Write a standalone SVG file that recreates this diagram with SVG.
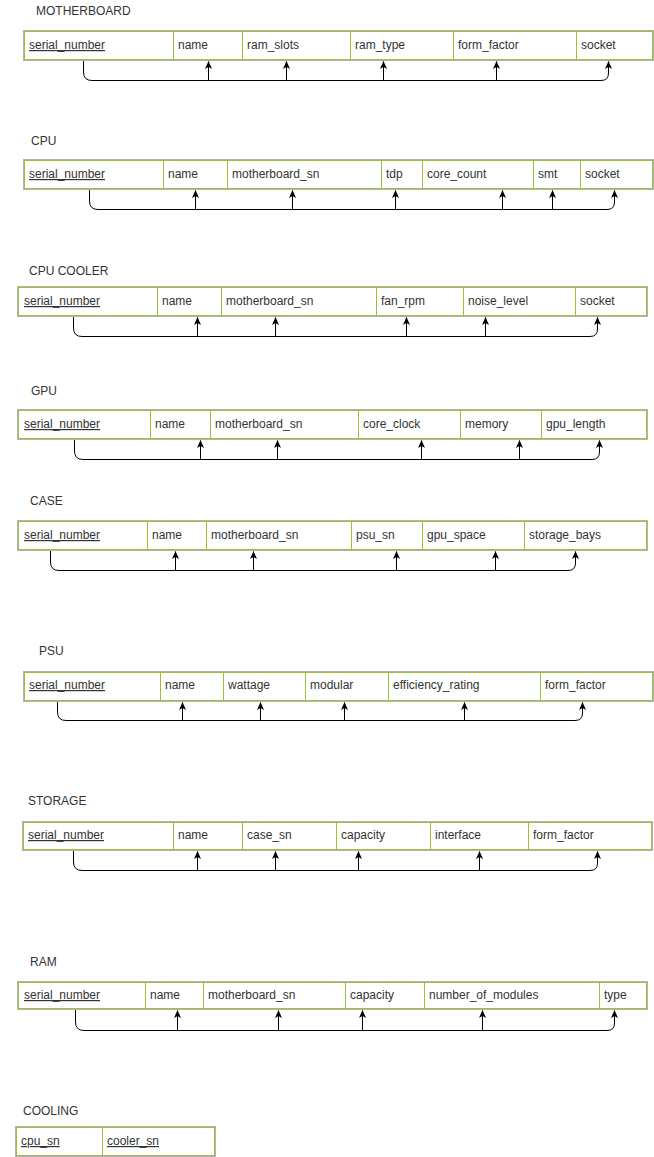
<svg xmlns="http://www.w3.org/2000/svg" width="654" height="1157" viewBox="0 0 654 1157">
<defs>
<style>
.bg{fill:#ffffff}
.outer{fill:#ffffff;stroke:#B3B3B3;stroke-width:1}
.cell{fill:none;stroke:#9AC23A;stroke-width:1}
.t{font-family:"Liberation Sans",Arial,sans-serif;font-size:12px;fill:#333333}
.pk{text-decoration:underline}
.c{fill:none;stroke:#000000;stroke-width:1}
</style>
<marker id="arr" viewBox="0 0 8 8" markerWidth="8" markerHeight="8" refX="7.5" refY="4" orient="auto" markerUnits="userSpaceOnUse">
<path d="M0,0.5 L8,4 L0,7.5 L2,4 z" fill="#000000"/>
</marker>
</defs>
<rect class="bg" x="0" y="0" width="654" height="1157"/>

<g id="motherboard">
<text class="t" x="36" y="15">MOTHERBOARD</text>
<rect class="outer" x="23.5" y="30.5" width="630" height="30"/>
<rect class="cell" x="24.5" y="31.5" width="149" height="28"/>
<rect class="cell" x="173.5" y="31.5" width="69" height="28"/>
<rect class="cell" x="242.5" y="31.5" width="108" height="28"/>
<rect class="cell" x="350.5" y="31.5" width="103" height="28"/>
<rect class="cell" x="453.5" y="31.5" width="123" height="28"/>
<rect class="cell" x="576.5" y="31.5" width="76" height="28"/>
<text class="t pk" x="29" y="49">serial_number</text>
<text class="t" x="178" y="49">name</text>
<text class="t" x="247" y="49">ram_slots</text>
<text class="t" x="355" y="49">ram_type</text>
<text class="t" x="458" y="49">form_factor</text>
<text class="t" x="581" y="49">socket</text>
</g>

<g id="cpu">
<text class="t" x="31" y="145">CPU</text>
<rect class="outer" x="23.5" y="159.5" width="630" height="30"/>
<rect class="cell" x="24.5" y="160.5" width="139" height="28"/>
<rect class="cell" x="163.5" y="160.5" width="64" height="28"/>
<rect class="cell" x="227.5" y="160.5" width="154" height="28"/>
<rect class="cell" x="381.5" y="160.5" width="41" height="28"/>
<rect class="cell" x="422.5" y="160.5" width="111" height="28"/>
<rect class="cell" x="533.5" y="160.5" width="47" height="28"/>
<rect class="cell" x="580.5" y="160.5" width="72" height="28"/>
<text class="t pk" x="29" y="178">serial_number</text>
<text class="t" x="168" y="178">name</text>
<text class="t" x="232" y="178">motherboard_sn</text>
<text class="t" x="386" y="178">tdp</text>
<text class="t" x="427" y="178">core_count</text>
<text class="t" x="538" y="178">smt</text>
<text class="t" x="585" y="178">socket</text>
</g>

<g id="cpu_cooler">
<text class="t" x="29" y="275">CPU COOLER</text>
<rect class="outer" x="17.5" y="286.5" width="630" height="30"/>
<rect class="cell" x="18.5" y="287.5" width="139" height="28"/>
<rect class="cell" x="157.5" y="287.5" width="64" height="28"/>
<rect class="cell" x="221.5" y="287.5" width="155" height="28"/>
<rect class="cell" x="376.5" y="287.5" width="87" height="28"/>
<rect class="cell" x="463.5" y="287.5" width="112" height="28"/>
<rect class="cell" x="575.5" y="287.5" width="71" height="28"/>
<text class="t pk" x="24" y="305">serial_number</text>
<text class="t" x="162" y="305">name</text>
<text class="t" x="226" y="305">motherboard_sn</text>
<text class="t" x="381" y="305">fan_rpm</text>
<text class="t" x="468" y="305">noise_level</text>
<text class="t" x="580" y="305">socket</text>
</g>

<g id="gpu">
<text class="t" x="31" y="395">GPU</text>
<rect class="outer" x="17.5" y="409.5" width="630" height="30"/>
<rect class="cell" x="18.5" y="410.5" width="132" height="28"/>
<rect class="cell" x="150.5" y="410.5" width="60" height="28"/>
<rect class="cell" x="210.5" y="410.5" width="148" height="28"/>
<rect class="cell" x="358.5" y="410.5" width="102" height="28"/>
<rect class="cell" x="460.5" y="410.5" width="81" height="28"/>
<rect class="cell" x="541.5" y="410.5" width="105" height="28"/>
<text class="t pk" x="24" y="428">serial_number</text>
<text class="t" x="155" y="428">name</text>
<text class="t" x="215" y="428">motherboard_sn</text>
<text class="t" x="363" y="428">core_clock</text>
<text class="t" x="465" y="428">memory</text>
<text class="t" x="546" y="428">gpu_length</text>
</g>

<g id="case">
<text class="t" x="30" y="505">CASE</text>
<rect class="outer" x="17.5" y="520.5" width="630" height="30"/>
<rect class="cell" x="18.5" y="521.5" width="129" height="28"/>
<rect class="cell" x="147.5" y="521.5" width="59" height="28"/>
<rect class="cell" x="206.5" y="521.5" width="145" height="28"/>
<rect class="cell" x="351.5" y="521.5" width="71" height="28"/>
<rect class="cell" x="422.5" y="521.5" width="102" height="28"/>
<rect class="cell" x="524.5" y="521.5" width="122" height="28"/>
<text class="t pk" x="24" y="539">serial_number</text>
<text class="t" x="152" y="539">name</text>
<text class="t" x="211" y="539">motherboard_sn</text>
<text class="t" x="356" y="539">psu_sn</text>
<text class="t" x="427" y="539">gpu_space</text>
<text class="t" x="529" y="539">storage_bays</text>
</g>

<g id="psu">
<text class="t" x="39" y="655">PSU</text>
<rect class="outer" x="23.5" y="671.5" width="630" height="30"/>
<rect class="cell" x="24.5" y="672.5" width="136" height="28"/>
<rect class="cell" x="160.5" y="672.5" width="63" height="28"/>
<rect class="cell" x="223.5" y="672.5" width="82" height="28"/>
<rect class="cell" x="305.5" y="672.5" width="83" height="28"/>
<rect class="cell" x="388.5" y="672.5" width="152" height="28"/>
<rect class="cell" x="540.5" y="672.5" width="112" height="28"/>
<text class="t pk" x="29" y="689">serial_number</text>
<text class="t" x="165" y="689">name</text>
<text class="t" x="228" y="689">wattage</text>
<text class="t" x="310" y="689">modular</text>
<text class="t" x="393" y="689">efficiency_rating</text>
<text class="t" x="545" y="689">form_factor</text>
</g>

<g id="storage">
<text class="t" x="28" y="805">STORAGE</text>
<rect class="outer" x="22.5" y="821.5" width="630" height="29"/>
<rect class="cell" x="23.5" y="822.5" width="150" height="27"/>
<rect class="cell" x="173.5" y="822.5" width="69" height="27"/>
<rect class="cell" x="242.5" y="822.5" width="94" height="27"/>
<rect class="cell" x="336.5" y="822.5" width="94" height="27"/>
<rect class="cell" x="430.5" y="822.5" width="98" height="27"/>
<rect class="cell" x="528.5" y="822.5" width="123" height="27"/>
<text class="t pk" x="28" y="839">serial_number</text>
<text class="t" x="178" y="839">name</text>
<text class="t" x="247" y="839">case_sn</text>
<text class="t" x="341" y="839">capacity</text>
<text class="t" x="435" y="839">interface</text>
<text class="t" x="533" y="839">form_factor</text>
</g>

<g id="ram">
<text class="t" x="30" y="966">RAM</text>
<rect class="outer" x="17.5" y="981.5" width="630" height="28"/>
<rect class="cell" x="18.5" y="982.5" width="127" height="26"/>
<rect class="cell" x="145.5" y="982.5" width="58" height="26"/>
<rect class="cell" x="203.5" y="982.5" width="142" height="26"/>
<rect class="cell" x="345.5" y="982.5" width="79" height="26"/>
<rect class="cell" x="424.5" y="982.5" width="175" height="26"/>
<rect class="cell" x="599.5" y="982.5" width="47" height="26"/>
<text class="t pk" x="24" y="999">serial_number</text>
<text class="t" x="150" y="999">name</text>
<text class="t" x="208" y="999">motherboard_sn</text>
<text class="t" x="350" y="999">capacity</text>
<text class="t" x="429" y="999">number_of_modules</text>
<text class="t" x="604" y="999">type</text>
</g>

<g id="cooling">
<text class="t" x="23" y="1115">COOLING</text>
<rect class="outer" x="15.5" y="1126.5" width="200" height="30"/>
<rect class="cell" x="16.5" y="1127.5" width="86" height="28"/>
<rect class="cell" x="102.5" y="1127.5" width="112" height="28"/>
<text class="t pk" x="21" y="1145">cpu_sn</text>
<text class="t pk" x="107" y="1145">cooler_sn</text>
</g>

<g id="connectors">
<!-- MOTHERBOARD -->
<path class="c" d="M83.5,61 L83.5,72 Q83.5,80.5 92,80.5 L601,80.5 Q608.5,80.5 608.5,73 L608.5,61.5" marker-end="url(#arr)"/>
<path class="c" d="M208.5,80.5 L208.5,61.5" marker-end="url(#arr)"/>
<path class="c" d="M286.5,80.5 L286.5,61.5" marker-end="url(#arr)"/>
<path class="c" d="M383.5,80.5 L383.5,61.5" marker-end="url(#arr)"/>
<path class="c" d="M496.5,80.5 L496.5,61.5" marker-end="url(#arr)"/>
<!-- CPU -->
<path class="c" d="M89.5,190 L89.5,201 Q89.5,209.5 98,209.5 L607,209.5 Q614.5,209.5 614.5,202 L614.5,190.5" marker-end="url(#arr)"/>
<path class="c" d="M195.5,209.5 L195.5,190.5" marker-end="url(#arr)"/>
<path class="c" d="M292.5,209.5 L292.5,190.5" marker-end="url(#arr)"/>
<path class="c" d="M395.5,209.5 L395.5,190.5" marker-end="url(#arr)"/>
<path class="c" d="M502.5,209.5 L502.5,190.5" marker-end="url(#arr)"/>
<path class="c" d="M552.5,209.5 L552.5,190.5" marker-end="url(#arr)"/>
<!-- CPU COOLER -->
<path class="c" d="M73.5,317 L73.5,328 Q73.5,336.5 82,336.5 L590,336.5 Q597.5,336.5 597.5,329 L597.5,317.5" marker-end="url(#arr)"/>
<path class="c" d="M197.5,336.5 L197.5,317.5" marker-end="url(#arr)"/>
<path class="c" d="M275.5,336.5 L275.5,317.5" marker-end="url(#arr)"/>
<path class="c" d="M406.5,336.5 L406.5,317.5" marker-end="url(#arr)"/>
<path class="c" d="M485.5,336.5 L485.5,317.5" marker-end="url(#arr)"/>
<!-- GPU -->
<path class="c" d="M74.5,440 L74.5,451 Q74.5,459.5 83,459.5 L592,459.5 Q599.5,459.5 599.5,452 L599.5,440.5" marker-end="url(#arr)"/>
<path class="c" d="M200.5,459.5 L200.5,440.5" marker-end="url(#arr)"/>
<path class="c" d="M277.5,459.5 L277.5,440.5" marker-end="url(#arr)"/>
<path class="c" d="M421.5,459.5 L421.5,440.5" marker-end="url(#arr)"/>
<path class="c" d="M519.5,459.5 L519.5,440.5" marker-end="url(#arr)"/>
<!-- CASE -->
<path class="c" d="M50.5,551 L50.5,562 Q50.5,570.5 59,570.5 L568,570.5 Q575.5,570.5 575.5,563 L575.5,551.5" marker-end="url(#arr)"/>
<path class="c" d="M175.5,570.5 L175.5,551.5" marker-end="url(#arr)"/>
<path class="c" d="M253.5,570.5 L253.5,551.5" marker-end="url(#arr)"/>
<path class="c" d="M396.5,570.5 L396.5,551.5" marker-end="url(#arr)"/>
<path class="c" d="M495.5,570.5 L495.5,551.5" marker-end="url(#arr)"/>
<!-- PSU -->
<path class="c" d="M57.5,702 L57.5,712 Q57.5,720.5 66,720.5 L575,720.5 Q582.5,720.5 582.5,713 L582.5,702.5" marker-end="url(#arr)"/>
<path class="c" d="M182.5,720.5 L182.5,702.5" marker-end="url(#arr)"/>
<path class="c" d="M260.5,720.5 L260.5,702.5" marker-end="url(#arr)"/>
<path class="c" d="M344.5,720.5 L344.5,702.5" marker-end="url(#arr)"/>
<path class="c" d="M464.5,720.5 L464.5,702.5" marker-end="url(#arr)"/>
<!-- STORAGE -->
<path class="c" d="M73.5,851 L73.5,862 Q73.5,870.5 82,870.5 L590,870.5 Q597.5,870.5 597.5,863 L597.5,851.5" marker-end="url(#arr)"/>
<path class="c" d="M197.5,870.5 L197.5,851.5" marker-end="url(#arr)"/>
<path class="c" d="M275.5,870.5 L275.5,851.5" marker-end="url(#arr)"/>
<path class="c" d="M358.5,870.5 L358.5,851.5" marker-end="url(#arr)"/>
<path class="c" d="M479.5,870.5 L479.5,851.5" marker-end="url(#arr)"/>
<!-- RAM -->
<path class="c" d="M75.5,1010 L75.5,1022 Q75.5,1030.5 84,1030.5 L607,1030.5 Q614.5,1030.5 614.5,1023 L614.5,1010.5" marker-end="url(#arr)"/>
<path class="c" d="M177.5,1030.5 L177.5,1010.5" marker-end="url(#arr)"/>
<path class="c" d="M278.5,1030.5 L278.5,1010.5" marker-end="url(#arr)"/>
<path class="c" d="M362.5,1030.5 L362.5,1010.5" marker-end="url(#arr)"/>
<path class="c" d="M482.5,1030.5 L482.5,1010.5" marker-end="url(#arr)"/>
</g>
</svg>
